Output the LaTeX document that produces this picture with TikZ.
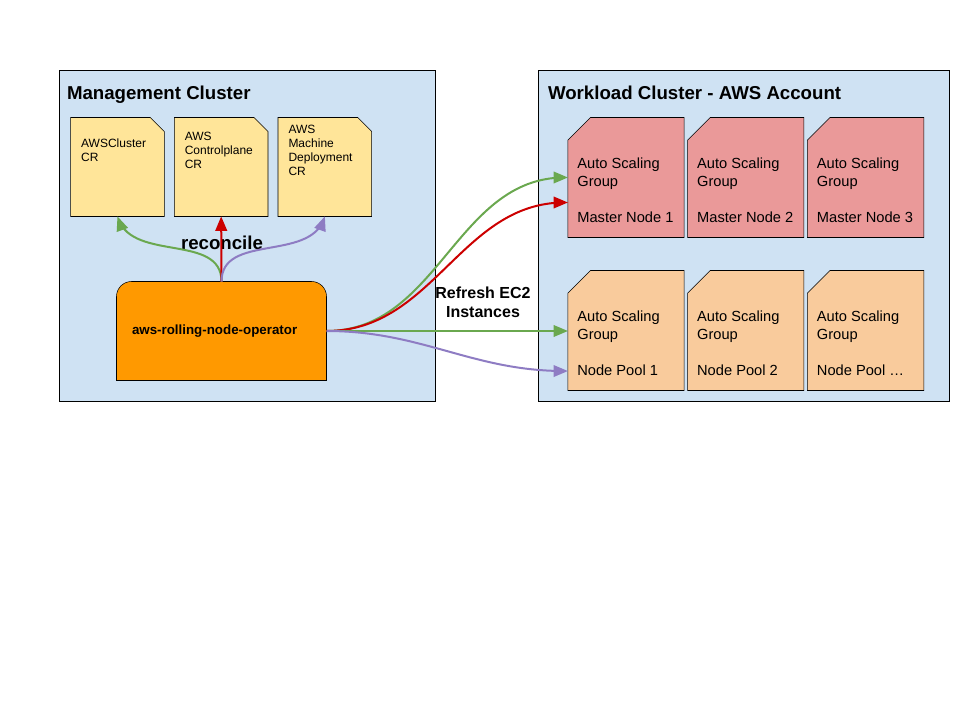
\documentclass[tikz,border=0pt]{standalone}
\usepackage{fontspec}
\setmainfont{Liberation Sans}
\usetikzlibrary{arrows,positioning,backgrounds}
\definecolor{clusterblue}{HTML}{CFE2F3}
\definecolor{cryellow}{HTML}{FFE599}
\definecolor{oporange}{HTML}{FF9900}
\definecolor{masterred}{HTML}{EA9999}
\definecolor{poolpeach}{HTML}{F9CB9C}
\definecolor{arrowgreen}{HTML}{6AA84F}
\definecolor{arrowred}{HTML}{CC0000}
\definecolor{arrowpurple}{HTML}{8E7CC3}

\begin{document}
\begin{tikzpicture}[x=0.75pt,y=0.75pt,->,>=triangle 45,line width=0.75pt,
  cluster/.style={draw,fill=clusterblue,inner sep=0pt},
  cluster title/.style={anchor=north west,inner sep=0pt,font=\bfseries\fontsize{14}{17}\selectfont},
  cr node/.style={minimum width=69.5pt,minimum height=73.5pt,inner sep=0pt},
  cr text/.style={anchor=west,align=left,inner sep=0pt,xshift=7.5pt,yshift=12.75pt,font=\fontsize{9}{10.5}\selectfont},
  asg node/.style={minimum width=86.5pt,minimum height=89.25pt,inner sep=0pt},
  asg text/.style={anchor=west,align=left,inner sep=0pt,xshift=6.75pt,yshift=-9.4pt,font=\fontsize{11}{13.5}\selectfont},
  op node/.style={minimum width=156.75pt,minimum height=73.5pt,inner xsep=11.25pt,text width=134.25pt,align=left,font=\bfseries\fontsize{10}{12}\selectfont},
  bold label/.style={align=center,inner sep=0pt,font=\bfseries\fontsize{12}{14.25}\selectfont}]

  \useasboundingbox (0,0) rectangle (960,-720);

  % custom resources
  \node[cr node,label={[cr text]west:{AWSCluster\\CR}}] (awscluster) at (117.5,-167) {};
  \node[cr node,label={[cr text]west:{AWS\\Controlplane\\CR}}] (awscp) [right=7.5pt of awscluster] {};
  \node[cr node,label={[cr text]west:{AWS\\Machine\\Deployment\\CR}}] (awsmd) [right=7.5pt of awscp] {};

  \node[op node] (operator) at (221.5,-331) {aws-rolling-node-operator};
  \node[bold label,font=\bfseries\fontsize{14}{17}\selectfont] (reconcile) at (222,-243) {reconcile};

  % auto scaling groups
  \node[asg node,label={[asg text]west:{Auto Scaling\\Group\\[13.5pt]Master Node 1}}] (master1) at (626,-177.5) {};
  \node[asg node,label={[asg text]west:{Auto Scaling\\Group\\[13.5pt]Master Node 2}}] (master2) [right=2.6pt of master1] {};
  \node[asg node,label={[asg text]west:{Auto Scaling\\Group\\[13.5pt]Master Node 3}}] (master3) [right=2.6pt of master2] {};
  \node[asg node,label={[asg text]west:{Auto Scaling\\Group\\[13.5pt]Node Pool 1}}] (pool1) [below=24.75pt of master1] {};
  \node[asg node,label={[asg text]west:{Auto Scaling\\Group\\[13.5pt]Node Pool 2}}] (pool2) [right=2.6pt of pool1] {};
  \node[asg node,label={[asg text]west:{Auto Scaling\\Group\\[13.5pt]Node Pool \dots}}] (pool3) [right=2.6pt of pool2] {};

  \node[bold label] (refresh) at (483,-302) {Refresh EC2\\Instances};

  \path[line width=1.5pt]
    (operator.north) edge[arrowgreen,out=90,in=-70] (awscluster.south)
    (operator.north) edge[arrowred] (awscp.south)
    (operator.north) edge[arrowpurple,out=90,in=-110] (awsmd.south)
    (operator.east) edge[arrowgreen,out=0,in=180] (master1.west)
    (operator.east) edge[arrowred,out=0,in=180] ([yshift=-18.75pt]master1.west)
    (operator.east) edge[arrowgreen] (operator.east -| pool1.west)
    (operator.east) edge[arrowpurple,out=0,in=180] ([yshift=-30.4pt]pool1.west);

  \begin{scope}[on background layer,-]
    \node[cluster,minimum width=282pt,minimum height=248.25pt,
      label={[cluster title,xshift=6pt,yshift=-12pt]north west:Management Cluster}] (mgmt) at (247,-235.5) {};
    \node[cluster,minimum width=308.25pt,minimum height=248.25pt,
      label={[cluster title,xshift=7.5pt,yshift=-12pt]north west:Workload Cluster - AWS Account}] (workload) at (743.5,-235.5) {};
    \draw[fill=oporange] (operator.south west) -- ([yshift=-11.25pt]operator.north west)
      arc[start angle=180,end angle=90,radius=11.25pt] -- ([xshift=-11.25pt]operator.north east)
      arc[start angle=90,end angle=0,radius=11.25pt] -- (operator.south east) -- cycle;
    % folded corners
    \foreach \c in {awscluster,awscp,awsmd}
      \draw[fill=cryellow] (\c.south west) -- (\c.north west) -- ([xshift=-10.5pt]\c.north east)
        -- ([yshift=-10.5pt]\c.north east) -- (\c.south east) -- cycle;
    \foreach \c/\f in {master1/masterred,master2/masterred,master3/masterred,pool1/poolpeach,pool2/poolpeach,pool3/poolpeach}
      \draw[fill=\f] (\c.south west) -- ([yshift=-17pt]\c.north west) -- ([xshift=17pt]\c.north west)
        -- (\c.north east) -- (\c.south east) -- cycle;
  \end{scope}
\end{tikzpicture}
\end{document}
